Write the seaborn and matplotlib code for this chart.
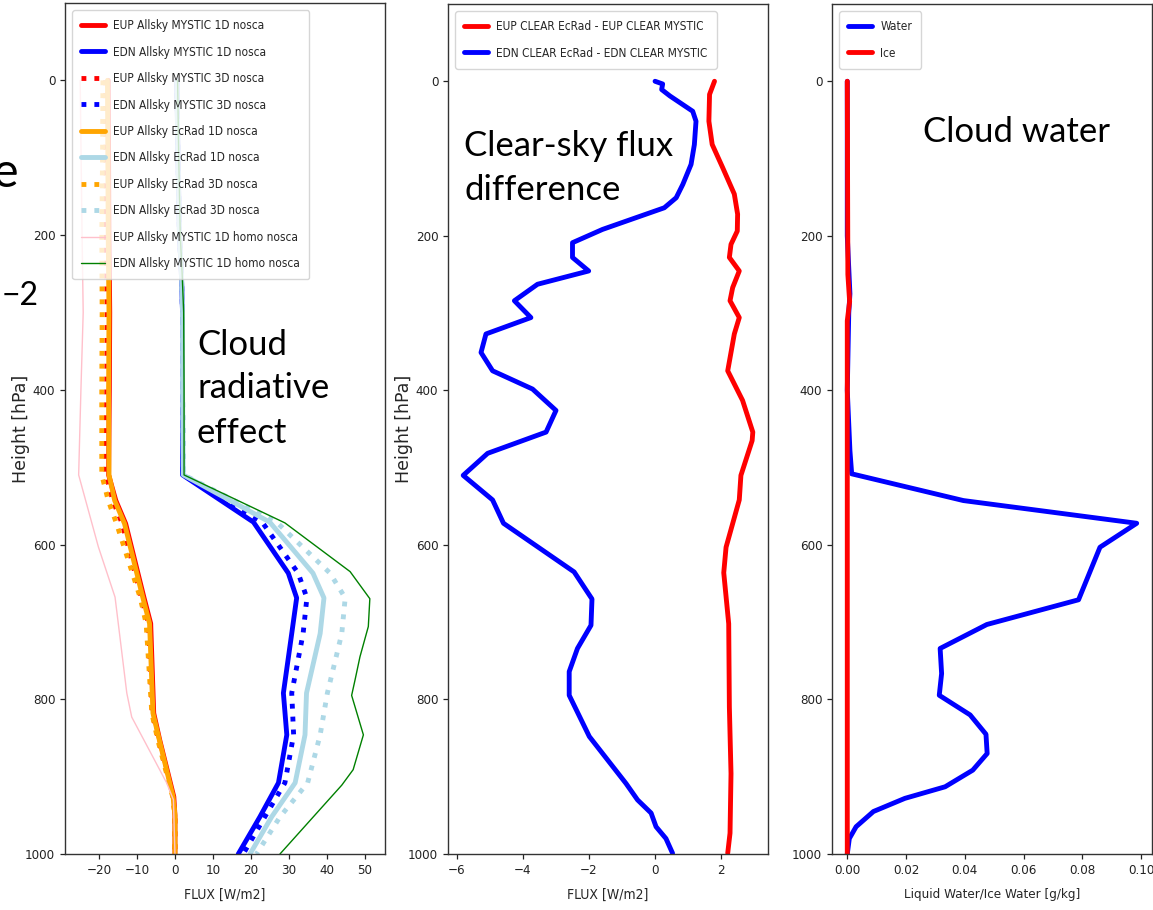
import os
import matplotlib
matplotlib.use("Agg")
import matplotlib.pyplot as plt
from matplotlib import font_manager as fm
import seaborn as sns
import numpy as np
import pandas as pd

# ---------------- data ----------------
# Panel 1: cloud radiative effect profiles
p_edn = [0, 100, 200, 250, 300, 400, 510, 571, 637, 669, 715, 792, 846, 908, 952, 1000]
edn_mystic_1d = [0.5, 0.8, 1.2, 1.7, 2.0, 2.0, 2.0, 20.7, 29.9, 32.1, 30.8, 28.6, 29.5, 27.3, 22.4, 16.7]
edn_mystic_3d = [0.5, 0.8, 1.2, 1.7, 2.0, 2.0, 2.1, 23.0, 32.5, 34.8, 33.8, 30.8, 31.3, 29.0, 23.7, 18.0]
edn_ecrad_1d = [0.5, 0.8, 1.2, 1.7, 2.0, 2.0, 2.2, 25.0, 36.4, 39.3, 38.3, 34.7, 34.3, 31.7, 25.5, 19.8]
edn_ecrad_3d = [0.5, 0.8, 1.2, 1.7, 2.0, 2.0, 2.3, 26.8, 40.9, 44.9, 44.0, 40.2, 38.3, 35.0, 27.7, 21.5]

p_edn_homo = [0, 100, 200, 250, 300, 400, 510, 572, 635, 670, 706, 745, 775, 795, 846, 891, 911, 1000]
edn_homo = [0.7, 1.0, 1.4, 1.9, 2.3, 2.4, 2.4, 29.0, 46.2, 51.4, 51.0, 48.8, 47.5, 46.6, 49.7, 47.0, 44.0, 27.7]

p_eup = [0, 100, 200, 300, 400, 510, 543, 573, 668, 702, 818, 853, 926, 950, 1000]
eup_mystic_1d = [-17.6, -17.5, -17.4, -17.2, -17.3, -17.5, -15.6, -13.0, -8.2, -6.4, -5.6, -4.0, -0.3, 0.0, 0.0]
eup_mystic_3d = [-18.3, -18.2, -18.1, -17.9, -18.0, -18.2, -16.4, -13.9, -8.9, -7.0, -6.0, -4.3, -0.5, 0.0, 0.0]
eup_ecrad_1d = [-17.8, -17.7, -17.6, -17.4, -17.5, -17.4, -15.9, -13.3, -8.5, -6.7, -5.8, -4.1, -0.5, 0.0, 0.0]
eup_ecrad_3d = [-19.0, -19.1, -19.3, -19.2, -19.3, -19.3, -17.6, -15.4, -9.2, -7.6, -6.1, -4.5, -0.6, 0.0, 0.0]

p_eup_homo = [0, 200, 300, 400, 510, 603, 668, 792, 823, 908, 930, 1000]
eup_homo = [-25.0, -24.5, -24.2, -24.8, -25.4, -20.2, -15.8, -12.7, -11.4, -2.2, -0.4, 0.0]

# Panel 2: clear-sky flux differences
p_clear_dn = [0, 3.5, 10.7, 19, 38.8, 51.7, 82, 107.6, 133.5, 150.7, 163.7, 191.7, 208.9, 228,
              245.5, 262.7, 284, 305.8, 327, 351, 374.7, 398.3, 426, 454, 481.5, 510, 541.8,
              572, 635, 670, 704, 734, 764, 794.6, 848, 908.7, 930, 947, 964.7, 980, 999]
clear_dn = [0.0, 0.23, 0.2, 0.45, 1.14, 1.24, 1.19, 1.09, 0.84, 0.64, 0.28, -1.59, -2.5, -2.5,
            -2.01, -3.56, -4.26, -3.76, -5.12, -5.27, -4.92, -3.71, -3.0, -3.3, -5.07, -5.81, -4.92,
            -4.59, -2.45, -1.91, -1.94, -2.35, -2.6, -2.6, -1.99, -0.88, -0.53, -0.12, 0.03, 0.33, 0.53]
p_clear_up = [0, 17, 51.7, 81.8, 112, 146, 172, 193.8, 211, 228, 245.5, 267, 284, 305.8, 327,
              374.7, 413, 454, 465, 510, 541.8, 603, 636, 702, 809.6, 896, 973, 999]
clear_up = [1.8, 1.65, 1.63, 1.73, 2.05, 2.40, 2.5, 2.49, 2.30, 2.25, 2.55, 2.35, 2.27, 2.55, 2.40,
            2.2, 2.65, 2.96, 2.94, 2.6, 2.55, 2.15, 2.08, 2.23, 2.25, 2.3, 2.27, 2.2]

# Panel 3: cloud water
p_water = [0, 200, 250, 275, 300, 400, 478, 508, 542.6, 572, 603, 671, 703, 734, 766.5, 794.6,
           820, 845, 870, 891.5, 913, 928, 945, 964.7, 980, 1000]
water = [0.0, 0.0, 0.0006, 0.0009, 0.0005, 0.0, 0.0009, 0.0015, 0.0395, 0.0985, 0.086, 0.0787,
         0.0475, 0.0316, 0.0321, 0.0313, 0.0418, 0.0472, 0.0476, 0.0427, 0.0333, 0.0196, 0.0089,
         0.003, 0.0007, 0.0]
p_ice = [0, 250, 285, 310, 1000]
ice = [0.0, 0.0002, 0.0008, 0.0, 0.0]

yticks = [0, 200, 400, 600, 800, 1000]
xticks1 = [-20, -10, 0, 10, 20, 30, 40, 50]

# ---------------- style ----------------
sns.set_theme(style="ticks", rc={
    "axes.linewidth": 1.0,
    "axes.edgecolor": "#333333",
    "xtick.major.size": 3.5,
    "ytick.major.size": 3.5,
    "xtick.major.width": 0.9,
    "ytick.major.width": 0.9,
})
plt.rcParams["font.family"] = ["DejaVu Sans"]
plt.rcParams["axes.unicode_minus"] = True


# ---- look for a narrow (condensed) regular sans font among installed files ----
def _is_regular(f):
    w = f.weight
    try:
        w = int(w)
    except (TypeError, ValueError):
        w = {"normal": 400, "regular": 400, "book": 400}.get(str(w).lower(), 0)
    return f.style == "normal" and 350 <= w <= 450


_prefs = [
    "liberationsansnarrow-regular",
    "notosans-condensed.",
    "notosans-condensed-regular",
    "dejavusanscondensed.ttf",
    "robotocondensed-regular",
    "roboto_condensed-regular",
]
_files = [f for f in fm.fontManager.ttflist if _is_regular(f)]
NARROW_FP = None
for key in _prefs:
    hit = [f for f in _files if key in os.path.basename(f.fname).lower()]
    if hit:
        NARROW_FP = hit[0].fname
        break

if NARROW_FP:
    TICK_FS, LEG_FS, XL_FS, XL3_FS, LEG_HL = 9.5, 8.6, 10.0, 9.6, 2.0
else:
    TICK_FS, LEG_FS, XL_FS, XL3_FS, LEG_HL = 9.0, 7.6, 9.0, 8.4, 2.3


def nfont(size):
    if NARROW_FP:
        return fm.FontProperties(fname=NARROW_FP, size=size)
    return fm.FontProperties(family="DejaVu Sans", size=size)


_fs_px = LEG_FS * 100 / 72
LEG_SPACING = max(0.3, (26.6 - 1.1 * _fs_px) / _fs_px)

W, H = 1153, 910
fig = plt.figure(figsize=(W / 100, H / 100), dpi=100)


def box(l, t, r, b):
    return [l / W, 1 - b / H, (r - l) / W, (b - t) / H]


ax1 = fig.add_axes(box(65, 3, 385, 854))
ax2 = fig.add_axes(box(448, 4, 768, 854))
ax3 = fig.add_axes(box(832, 4, 1152, 854))

TH = 3.5
curves1 = [
    (eup_mystic_1d, p_eup, "red", "-", TH, "EUP Allsky MYSTIC 1D nosca"),
    (edn_mystic_1d, p_edn, "blue", "-", TH, "EDN Allsky MYSTIC 1D nosca"),
    (eup_mystic_3d, p_eup, "red", ":", TH, "EUP Allsky MYSTIC 3D nosca"),
    (edn_mystic_3d, p_edn, "blue", ":", TH, "EDN Allsky MYSTIC 3D nosca"),
    (eup_ecrad_1d, p_eup, "orange", "-", TH, "EUP Allsky EcRad 1D nosca"),
    (edn_ecrad_1d, p_edn, "lightblue", "-", TH, "EDN Allsky EcRad 1D nosca"),
    (eup_ecrad_3d, p_eup, "orange", ":", TH, "EUP Allsky EcRad 3D nosca"),
    (edn_ecrad_3d, p_edn, "lightblue", ":", TH, "EDN Allsky EcRad 3D nosca"),
    (eup_homo, p_eup_homo, "pink", "-", 1.0, "EUP Allsky MYSTIC 1D homo nosca"),
    (edn_homo, p_edn_homo, "green", "-", 1.0, "EDN Allsky MYSTIC 1D homo nosca"),
]
for xv, pv, c, ls, lw, lab in curves1:
    sns.lineplot(x=xv, y=pv, sort=False, orient="y", ax=ax1, color=c,
                 linestyle=ls, linewidth=lw, label=lab)

sns.lineplot(x=clear_up, y=p_clear_up, sort=False, orient="y", ax=ax2, color="red",
             linewidth=TH, label="EUP CLEAR EcRad - EUP CLEAR MYSTIC")
sns.lineplot(x=clear_dn, y=p_clear_dn, sort=False, orient="y", ax=ax2, color="blue",
             linewidth=TH, label="EDN CLEAR EcRad - EDN CLEAR MYSTIC")

sns.lineplot(x=water, y=p_water, sort=False, orient="y", ax=ax3, color="blue",
             linewidth=TH, label="Water")
sns.lineplot(x=ice, y=p_ice, sort=False, orient="y", ax=ax3, color="red",
             linewidth=TH, label="Ice")

ax1.set_xlim(-29.0, 55.4)
ax1.set_xticks(xticks1)
ax2.set_xlim(-6.27, 3.42)
ax3.set_xlim(-0.0052, 0.1037)

for ax, xl, xfs in [(ax1, "FLUX [W/m2]", XL_FS), (ax2, "FLUX [W/m2]", XL_FS),
                    (ax3, "Liquid Water/Ice Water [g/kg]", XL3_FS)]:
    ax.set_ylim(1000, -100)
    ax.set_yticks(yticks)
    ax.set_xlabel(xl, fontproperties=nfont(xfs), labelpad=8)
    ax.tick_params(colors="#222222", pad=3.5)
    for lab in ax.get_xticklabels() + ax.get_yticklabels():
        lab.set_fontproperties(nfont(TICK_FS))
    for s in ax.spines.values():
        s.set_visible(True)
    ax.legend(loc="upper left", prop=nfont(LEG_FS), borderaxespad=0.6,
              labelspacing=LEG_SPACING, borderpad=0.75, handlelength=LEG_HL,
              handletextpad=0.7)

for ax in (ax1, ax2):
    ax.set_ylabel("Height [hPa]", fontsize=12.5, family="DejaVu Sans")
    ax.yaxis.set_label_coords(-0.11, 0.5)
ax3.set_ylabel("")

# slide annotations
ANN = ["Lato", "DejaVu Sans"]


def ftext(x, y, s, size, ha="left"):
    fig.text(x / W, 1 - y / H, s, fontsize=size, family=ANN,
             ha=ha, va="baseline", color="black")


ftext(197, 355, "Cloud", 25)
ftext(197, 398, "radiative", 25)
ftext(197, 443, "effect", 25)
ftext(464, 156, "Clear-sky flux", 25)
ftext(464, 200, "difference", 25)
ftext(923, 142, "Cloud water", 25)
ftext(19, 187, "e", 35, ha="right")
ftext(39, 305, "\u22122", 23, ha="right")

fig.savefig("out.png", dpi=100)
